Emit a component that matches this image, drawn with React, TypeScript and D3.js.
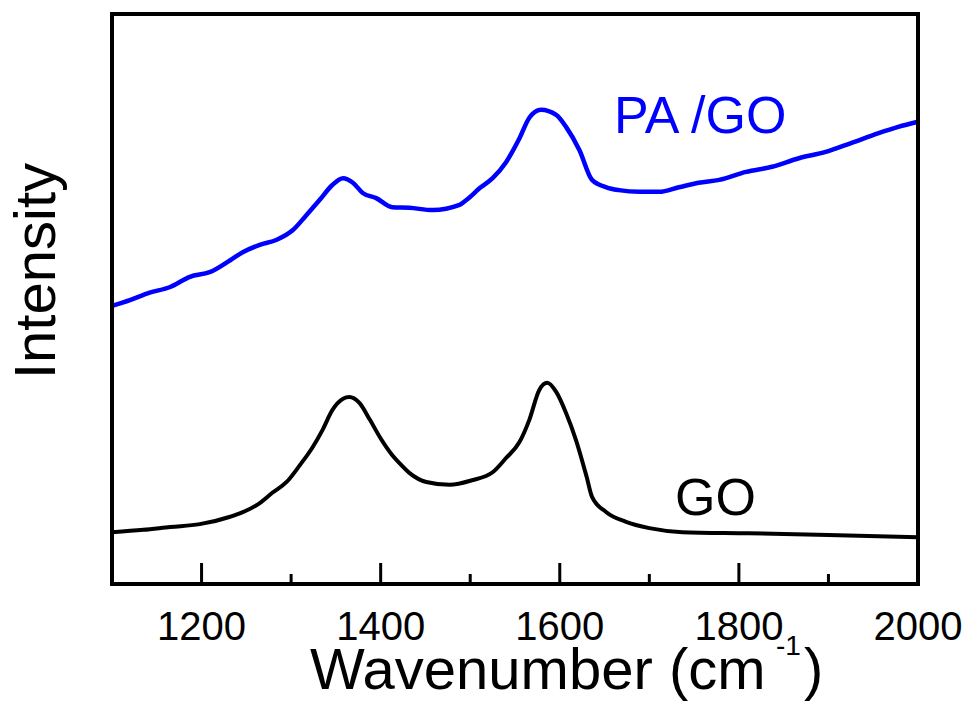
import React from 'react';
import * as d3 from 'd3';

// wavenumber (cm-1) and intensity (a.u.)
const paGoWave = [1100, 1120, 1142, 1165, 1187, 1209, 1232, 1246, 1265, 1284, 1302, 1317, 1332, 1346, 1358, 1369, 1380, 1395, 1413, 1432, 1458, 1488, 1496, 1511, 1525, 1540, 1555, 1566, 1579, 1596, 1607, 1622, 1636, 1652, 1666, 1689, 1711, 1733, 1755, 1778, 1808, 1837, 1867, 1897, 1926, 1956, 1978, 2000];
const paGoInt = [0.488, 0.498, 0.511, 0.521, 0.539, 0.547, 0.568, 0.582, 0.595, 0.604, 0.621, 0.647, 0.674, 0.700, 0.712, 0.704, 0.686, 0.677, 0.661, 0.660, 0.656, 0.665, 0.674, 0.695, 0.712, 0.740, 0.782, 0.818, 0.832, 0.823, 0.802, 0.761, 0.709, 0.696, 0.691, 0.688, 0.688, 0.696, 0.704, 0.709, 0.723, 0.732, 0.747, 0.758, 0.774, 0.791, 0.802, 0.811];

const goWave = [1100, 1135, 1165, 1198, 1232, 1246, 1265, 1279, 1295, 1310, 1324, 1335, 1346, 1358, 1365, 1376, 1388, 1399, 1413, 1421, 1432, 1451, 1477, 1502, 1525, 1540, 1555, 1566, 1577, 1586, 1596, 1607, 1618, 1630, 1636, 1652, 1674, 1700, 1737, 1811, 1900, 2000];
const goInt = [0.091, 0.095, 0.100, 0.105, 0.118, 0.126, 0.142, 0.160, 0.179, 0.209, 0.240, 0.270, 0.305, 0.325, 0.328, 0.318, 0.288, 0.258, 0.226, 0.212, 0.195, 0.179, 0.174, 0.182, 0.196, 0.221, 0.249, 0.288, 0.340, 0.353, 0.337, 0.300, 0.253, 0.188, 0.153, 0.126, 0.109, 0.098, 0.091, 0.089, 0.086, 0.082];

const majorTicks = [1200, 1400, 1600, 1800, 2000];
const minorTicks = [1300, 1500, 1700, 1900];

const font = 'Arial, "Liberation Sans", sans-serif';

const App = () => {
  const left = 112, right = 918, top = 14, bottom = 584;

  const x = d3.scaleLinear().domain([1100, 2000]).range([left, right]);
  const y = d3.scaleLinear().domain([0, 1]).range([bottom, top]);

  const line = d3.line<[number, number]>()
    .x(d => x(d[0]))
    .y(d => y(d[1]))
    .curve(d3.curveMonotoneX);

  const paGo = line(paGoWave.map((w, i) => [w, paGoInt[i]] as [number, number])) || '';
  const go = line(goWave.map((w, i) => [w, goInt[i]] as [number, number])) || '';

  return (
    <svg width={971} height={701} style={{ position: 'absolute', left: 0, top: 0, background: '#fff' }} fontFamily={font}>
      <path d={paGo} fill="none" stroke="#0000ff" strokeWidth={4.5} strokeLinejoin="round" />
      <path d={go} fill="none" stroke="#000" strokeWidth={4} strokeLinejoin="round" />

      <rect x={left} y={top} width={right - left} height={bottom - top} fill="none" stroke="#000" strokeWidth={4} />

      {majorTicks.map(t => (
        <line key={'M' + t} x1={x(t)} x2={x(t)} y1={bottom} y2={bottom - 21} stroke="#000" strokeWidth={3} />
      ))}
      {minorTicks.map(t => (
        <line key={'m' + t} x1={x(t)} x2={x(t)} y1={bottom} y2={bottom - 10} stroke="#000" strokeWidth={3} />
      ))}
      {majorTicks.map(t => (
        <text key={'l' + t} x={x(t)} y={640} textAnchor="middle" fontSize={40}>{t}</text>
      ))}

      <text x={310} y={689} fontSize={58}>Wavenumber (cm</text>
      <text x={776} y={655} fontSize={28}>-1</text>
      <text x={804} y={689} fontSize={58}>)</text>

      <text transform="translate(55,271) rotate(-90)" textAnchor="middle" fontSize={58}>Intensity</text>

      <text x={614} y={133} fontSize={52} fill="#0000ff">PA /GO</text>
      <text x={675} y={515} fontSize={52} fill="#000">GO</text>
    </svg>
  );
};

export default App;
